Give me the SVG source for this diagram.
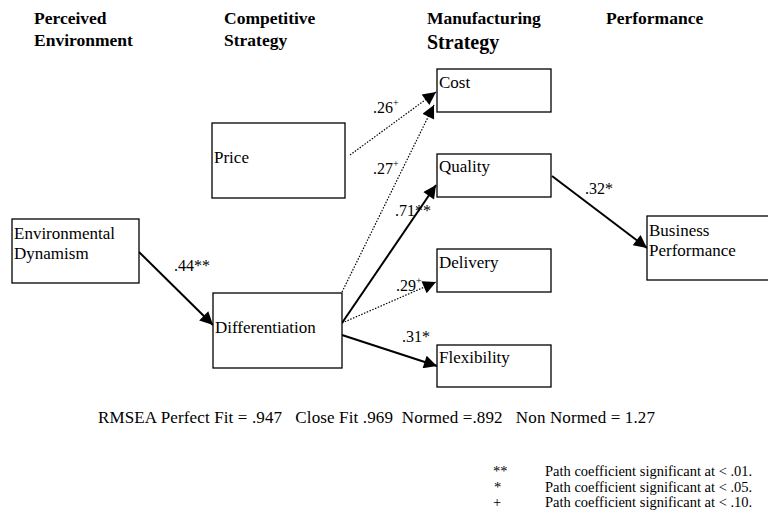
<svg xmlns="http://www.w3.org/2000/svg" width="768" height="518" viewBox="0 0 768 518">
<defs>
<style>
.h{font-family:"Liberation Serif","Times New Roman",serif;font-weight:bold;font-size:17.5px;fill:#000}
.t{font-family:"Liberation Serif","Times New Roman",serif;font-size:17px;fill:#000}
.l{font-family:"Liberation Serif","Times New Roman",serif;font-size:16px;fill:#000}
.s{font-family:"Liberation Serif","Times New Roman",serif;font-size:10px;fill:#000}
.f{font-family:"Liberation Serif","Times New Roman",serif;font-size:17px;fill:#000}
.g{font-family:"Liberation Serif","Times New Roman",serif;font-size:14.5px;fill:#000}
.box{fill:#fff;stroke:#000;stroke-width:1.3}
.solid{stroke:#000;stroke-width:2;fill:none}
.dot{stroke:#000;stroke-width:1.2;stroke-dasharray:1.5 1.5;fill:none}
</style>
<marker id="ah" viewBox="0 0 10 10" refX="10" refY="5" markerWidth="19" markerHeight="13" markerUnits="userSpaceOnUse" orient="auto">
<path d="M0,0 L10,5 L0,10 z" fill="#000"/>
</marker>
</defs>
<rect width="768" height="518" fill="#fff"/>
<g id="headers">
<text class="h" x="34" y="24">Perceived</text>
<text class="h" x="34" y="46">Environment</text>
<text class="h" x="224" y="24">Competitive</text>
<text class="h" x="224" y="46">Strategy</text>
<text class="h" x="427" y="24">Manufacturing</text>
<text class="h" x="427" y="49" style="font-size:20px">Strategy</text>
<text class="h" x="606" y="24">Performance</text>
</g>
<g id="connectors">
<line class="dot" x1="350" y1="155" x2="436" y2="92" marker-end="url(#ah)"/>
<line class="dot" x1="342" y1="292" x2="434" y2="105" marker-end="url(#ah)"/>
<line class="solid" x1="342" y1="323" x2="436" y2="185" marker-end="url(#ah)"/>
<line class="dot" x1="342" y1="323" x2="436" y2="282" marker-end="url(#ah)"/>
<line class="solid" x1="342" y1="335" x2="437" y2="366" marker-end="url(#ah)"/>
<line class="solid" x1="139" y1="252" x2="213" y2="325" marker-end="url(#ah)"/>
<line class="solid" x1="552" y1="176" x2="647" y2="248" marker-end="url(#ah)"/>
</g>
<g id="labels">
<text class="l" x="373" y="113">.26<tspan class="s" dy="-7">+</tspan></text>
<text class="l" x="373" y="174">.27<tspan class="s" dy="-7">+</tspan></text>
<text class="l" x="395" y="216">.71**</text>
<text class="l" x="396" y="291">.29<tspan class="s" dy="-7">+</tspan></text>
<text class="l" x="402" y="342">.31*</text>
<text class="l" x="585" y="194">.32*</text>
<text class="l" x="174" y="271">.44**</text>
</g>
<g id="cost"><rect class="box" x="437" y="69" width="114" height="43"/><text class="t" x="439" y="88">Cost</text></g>
<g id="price"><rect class="box" x="212" y="123" width="133" height="75"/><text class="t" x="214" y="163">Price</text></g>
<g id="quality"><rect class="box" x="437" y="154" width="114" height="43"/><text class="t" x="439" y="172">Quality</text></g>
<g id="envdyn"><rect class="box" x="12" y="219" width="127" height="64"/><text class="t" x="14" y="239">Environmental</text><text class="t" x="14" y="259">Dynamism</text></g>
<g id="delivery"><rect class="box" x="437" y="249" width="114" height="43"/><text class="t" x="439" y="268">Delivery</text></g>
<g id="differentiation"><rect class="box" x="213" y="293" width="129" height="75"/><text class="t" x="215" y="333">Differentiation</text></g>
<g id="flexibility"><rect class="box" x="437" y="345" width="114" height="42"/><text class="t" x="439" y="363">Flexibility</text></g>
<g id="business"><rect class="box" x="647" y="216" width="124" height="64"/><text class="t" x="649" y="236">Business</text><text class="t" x="649" y="256">Performance</text></g>
<g id="fit">
<text class="f" x="98" y="423" xml:space="preserve" textLength="557" lengthAdjust="spacing">RMSEA Perfect Fit = .947   Close Fit .969  Normed =.892   Non Normed = 1.27</text>
</g>
<g id="legend">
<text class="g" x="493" y="476">**</text><text class="g" x="545" y="476">Path coefficient significant at &lt; .01.</text>
<text class="g" x="494" y="492">*</text><text class="g" x="545" y="492">Path coefficient significant at &lt; .05.</text>
<text class="g" x="493" y="507">+</text><text class="g" x="545" y="507">Path coefficient significant at &lt; .10.</text>
</g>
</svg>
